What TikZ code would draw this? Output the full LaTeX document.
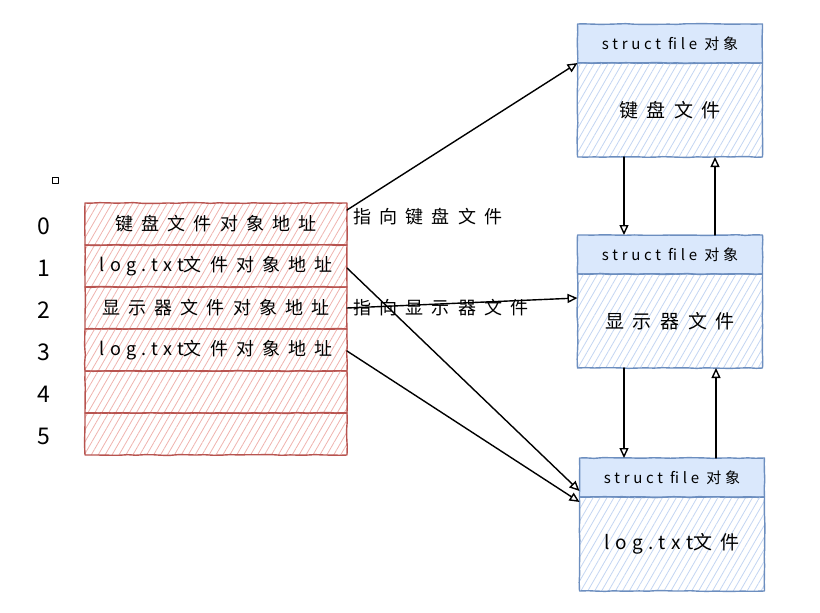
\documentclass[tikz,border=0pt]{standalone}
\usepackage{fontspec}
\newfontfamily\hand[LetterSpace=45]{Noto Sans CJK SC}
\newfontfamily\handlat[LetterSpace=30]{Noto Sans CJK SC}
\newfontfamily\headfont[LetterSpace=25]{Noto Sans CJK SC}
\usetikzlibrary{%
  arrows.meta,%
  chains,%
  positioning,%
  patterns.meta,%
  decorations.pathmorphing
}
\definecolor{slotline}{HTML}{B85450}
\definecolor{slothatch}{HTML}{EFB3AE}
\definecolor{fileline}{HTML}{6C8EBF}
\definecolor{filefill}{HTML}{DAE8FC}
\definecolor{filehatch}{HTML}{C3D5F2}

\begin{document}
\begin{tikzpicture}[
    x=1pt,y=-1pt,
    >={Triangle[open,length=10pt,width=9pt]},line width=1.4pt,
    /pgf/every decoration/.style={/tikz/sharp corners},
    fuzzy/.style={decorate,
        decoration={random steps,segment length=3mm,amplitude=0.4pt}},
    line join=round,line cap=round,
    slot/.style={rectangle,draw=slotline,fuzzy,outer sep=0pt,line width=1.4pt,
        minimum width=262pt,minimum height=42pt,inner sep=0pt,
        pattern={Lines[angle=60,distance=6pt,line width=0.8pt]},
        pattern color=slothatch,font=\hand\fontsize{18}{18}\selectfont},
    filehead/.style={rectangle,draw=fileline,fill=filefill,fuzzy,outer sep=0pt,
        minimum width=185pt,minimum height=39pt,inner sep=0pt,line width=1.4pt,
        font=\headfont\fontsize{15}{15}\selectfont},
    filebody/.style={rectangle,draw=fileline,fuzzy,outer sep=0pt,
        minimum width=185pt,minimum height=94pt,inner sep=0pt,line width=1.4pt,
        pattern={Lines[angle=60,distance=6pt,line width=0.8pt]},
        pattern color=filehatch,font=\hand\fontsize{19}{19}\selectfont},
    index/.style={font=\hand\fontsize{23}{23}\selectfont,inner sep=0pt},
    pointer/.style={font=\hand\fontsize{18}{18}\selectfont,inner sep=0pt,anchor=west}
  ]
    \useasboundingbox (0,0) rectangle (820,613);

    % fd table
    \begin{scope}[start chain=going below,node distance=0pt,
            every node/.style={on chain}]
        \node [slot] at (216,224) (r0) {键盘文件对象地址};
        \node [slot]              (r1) {{\handlat log.txt}文件对象地址};
        \node [slot]              (r2) {显示器文件对象地址};
        \node [slot]              (r3) {{\handlat log.txt}文件对象地址};
        \node [slot]              (r4) {};
        \node [slot]              (r5) {};
    \end{scope}
    \foreach \i in {0,...,5}
        \node [index,left=34pt of r\i.west,yshift=-2pt] (n\i) {\i};
    \node [draw,minimum size=6pt,inner sep=0pt,line width=0.8pt] (sq) at (55,180) {};

    % struct file objects
    \node [filehead] at (670,43.5) (h1) {struct file 对象};
    \node [filebody,below=0pt of h1] (b1) {键盘文件};
    \node [filehead] at (670,254.5) (h2) {struct file 对象};
    \node [filebody,below=0pt of h2] (b2) {显示器文件};
    \node [filehead] at (672,477.5) (h3) {struct file 对象};
    \node [filebody,below=0pt of h3] (b3) {{\handlat log.txt}文件};

    \node [pointer] at (353,217) (p0) {指向键盘文件};
    \node [pointer] at (353,308) (p2) {指向显示器文件};

    \begin{scope}[->]
        \draw ([yshift=14pt]r0.east) -- (h1.south west);
        \draw ([yshift=-2pt]r1.east) -- ([yshift=6pt]h3.south west);
        \draw (r2.east)              -- ([yshift=23pt]b2.west);
        \draw ([yshift=-1pt]r3.east) -- ([yshift=-5pt]h3.south west);
        \draw ([xshift=-46pt]b1.south) -- ([xshift=-46pt]h2.north);
        \draw ([xshift=45pt]h2.north)  -- ([xshift=45pt]b1.south);
        \draw ([xshift=-46pt]b2.south) -- ([xshift=-46pt]b2.south |- h3.north);
        \draw ([xshift=46pt]b2.south |- h3.north) -- ([xshift=46pt]b2.south);
    \end{scope}
\end{tikzpicture}
\end{document}
